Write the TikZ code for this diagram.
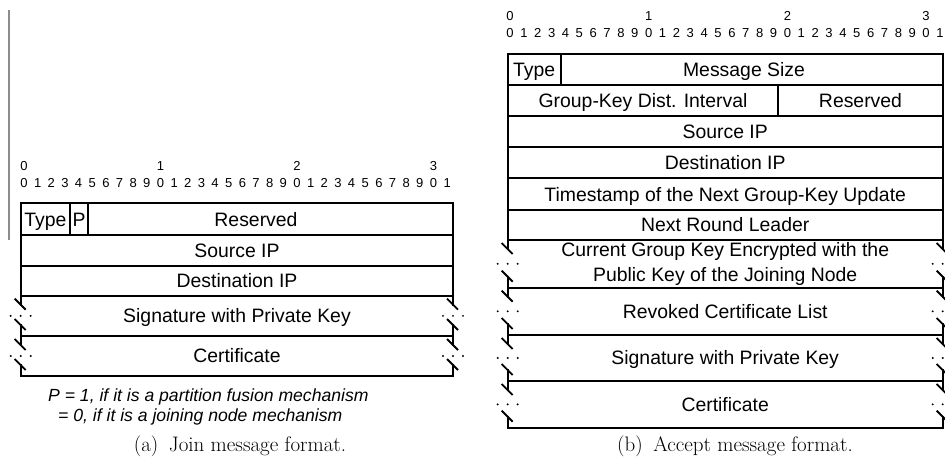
\documentclass[tikz,border=0pt]{standalone}
\usepackage{fontspec}
\newfontfamily\arialf{Liberation Sans}
\newcommand\varedge[3]{% x, top, bottom
  \draw[frame] (#1,#2) -- (#1,#2+9);
  \draw[slash] (#1-6,#2+3) -- (#1+5,#2+14);
  \fill ({#1-10},{(#2+#3)/2}) circle[radius=1.1pt];
  \fill ({#1},{(#2+#3)/2}) circle[radius=1.1pt];
  \fill ({#1+10},{(#2+#3)/2}) circle[radius=1.1pt];
  \draw[slash] (#1-6,#3-17) -- (#1+5,#3-6);
  \draw[frame] (#1,#3-11) -- (#1,#3);
}
\begin{document}
\begin{tikzpicture}[x=1pt,y=-1pt,
  cell/.style={font=\arialf\fontsize{19.4}{25}\selectfont, inner sep=0pt, text height=13.9pt, text depth=0pt, anchor=center},
  cell2/.style={font=\arialf\fontsize{19.4}{25}\selectfont, inner sep=0pt, align=center, anchor=center},
  bit/.style={font=\arialf\fontsize{13}{15}\selectfont, inner sep=0pt, anchor=base},
  note/.style={font=\arialf\itshape\fontsize{17.6}{20}\selectfont, inner sep=0pt, anchor=base west},
  captext/.style={font=\fontsize{21}{25}\selectfont, inner sep=0pt, anchor=base},
  frame/.style={line width=2pt, line cap=rect, line join=miter},
  slash/.style={line width=1.8pt, line cap=butt},
  greyline/.style={line width=1.6pt, draw=black!45}
]
\useasboundingbox (0,0) rectangle (945,469);

% stray grey rule at the left
\draw[greyline] (9,10) -- (9,240);

% ---------------- (a) Join message ----------------
\foreach \t in {0,1,2,3} \node[bit] (lt\t) at ({24+\t*136.5},170.7) {\t};
\foreach \i in {0,...,31} {
  \pgfmathtruncatemacro\d{mod(\i,10)}
  \node[bit] (lb\i) at ({24+\i*13.65},187.2) {\d};
}
\draw[frame] (20.7,203.3) rectangle (453,295.7);
\draw[frame] (20.7,235) -- (453,235);
\draw[frame] (20.7,265.7) -- (453,265.7);
\draw[frame] (70,203.3) -- (70,235);
\draw[frame] (88.3,203.3) -- (88.3,235);
\draw[frame] (20.7,336) -- (453,336);
\draw[frame] (20.7,376) -- (453,376);
\varedge{20.7}{295.7}{336}
\varedge{453}{295.7}{336}
\varedge{20.7}{336}{376}
\varedge{453}{336}{376}

\node[cell] (ltype) at (45.3,219.2) {Type};
\node[cell] (lp) at (79.2,219.2) {P};
\node[cell] (lres) at (256,219.2) {Reserved};
\node[cell] (lsrc) at (237,250.4) {Source IP};
\node[cell] (ldst) at (237,280.7) {Destination IP};
\node[cell] (lsig) at (237,316) {Signature with Private Key};
\node[cell] (lcert) at (237,356) {Certificate};

\node[note] (nt1) at (48,401.7) {P = 1, if it is a partition fusion mechanism};
\node[note] (nt2) at (58,421.7) {= 0, if it is a joining node mechanism};

\node[captext] (capa) at (240,451) {(a)\enspace Join message format.};

% ---------------- (b) Accept message ----------------
\foreach \t in {0,1,2,3} \node[bit] (rt\t) at ({510+\t*138.7},20.7) {\t};
\foreach \i in {0,...,31} {
  \pgfmathtruncatemacro\d{mod(\i,10)}
  \node[bit] (rb\i) at ({510+\i*13.87},37.2) {\d};
}
\draw[frame] (507.7,54.3) rectangle (942.7,240);
\foreach \yy in {85,115.7,146.7,178.3,210}
  \draw[frame] (507.7,\yy) -- (942.7,\yy);
\draw[frame] (560.7,54.3) -- (560.7,85);
\draw[frame] (778.3,85) -- (778.3,115.7);
\foreach \yy in {287.7,335,381,427.7}
  \draw[frame] (507.7,\yy) -- (942.7,\yy);
\varedge{507.7}{240}{287.7}
\varedge{942.7}{240}{287.7}
\varedge{507.7}{287.7}{335}
\varedge{942.7}{287.7}{335}
\varedge{507.7}{335}{381}
\varedge{942.7}{335}{381}
\varedge{507.7}{381}{427.7}
\varedge{942.7}{381}{427.7}

\node[cell] (rtype) at (534.2,69.7) {Type};
\node[cell] (rsize) at (744,69.7) {Message Size};
\node[cell] (rgk) at (643,100.4) {Group-Key Dist. Interval};
\node[cell] (rres) at (860.5,100.4) {Reserved};
\node[cell] (rsrc) at (725.2,131.2) {Source IP};
\node[cell] (rdst) at (725.2,162.5) {Destination IP};
\node[cell] (rts) at (725.2,194.2) {Timestamp of the Next Group-Key Update};
\node[cell] (rnrl) at (725.2,225) {Next Round Leader};
\node[cell2] (rcgk) at (725.2,263.8) {Current Group Key Encrypted with the\\Public Key of the Joining Node};
\node[cell] (rrev) at (725.2,311.4) {Revoked Certificate List};
\node[cell] (rsig) at (725.2,358) {Signature with Private Key};
\node[cell] (rcert) at (725.2,404.4) {Certificate};

\node[captext] (capb) at (735,451) {(b)\enspace Accept message format.};
\end{tikzpicture}
\end{document}
